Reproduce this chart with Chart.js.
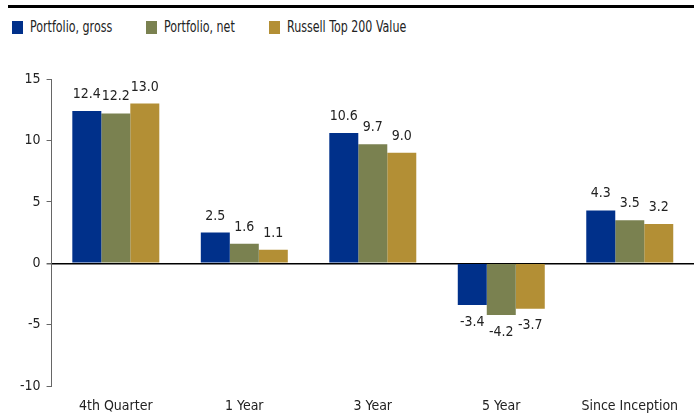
<!DOCTYPE html>
<html>
<head>
<meta charset="utf-8">
<script src="https://cdn.jsdelivr.net/npm/chart.js@4.4.1/dist/chart.umd.min.js"></script>
<style>
  html, body { margin: 0; padding: 0; background: #fff; }
  body { width: 694px; height: 415px; position: relative; overflow: hidden; font-family: "DejaVu Sans Condensed", "DejaVu Sans", sans-serif; }
  #topRule { position: absolute; left: 8px; right: 0; top: 5px; height: 3px; background: #000; }
  #legend { position: absolute; left: 0; top: 21px; width: 694px; height: 16px; font-size: 16px; color: #222; }
  .item { position: absolute; top: 0; height: 13px; }
  .box { position: absolute; left: 0; top: 0; width: 11px; height: 13px; }
  .txt { position: absolute; left: 18px; top: -4px; white-space: nowrap; transform: scaleX(0.77); transform-origin: left center; }
  #wrap { position: absolute; left: 0; top: 0; width: 694px; height: 415px; }
</style>
</head>
<body>
<div id="topRule"></div>
<div id="legend"></div>
<div id="wrap"><canvas id="chartReturns"></canvas></div>
<script>
const periods = ["4th Quarter", "1 Year", "3 Year", "5 Year", "Since Inception"];
const seriesNames = ["Portfolio, gross", "Portfolio, net", "Russell Top 200 Value"];
const gross = [12.4, 2.5, 10.6, -3.4, 4.3];
const net = [12.2, 1.6, 9.7, -4.2, 3.5];
const benchmark = [13.0, 1.1, 9.0, -3.7, 3.2];
const colors = ["#00308a", "#7a8150", "#b38f35"];
const legendX = [12, 146, 269];
const FONT = "'DejaVu Sans Condensed', 'DejaVu Sans', sans-serif";

// value labels above / below each bar
const valueLabels = {
    id: "valueLabels",
    afterDatasetsDraw(chart) {
        const ctx = chart.ctx;
        ctx.save();
        ctx.font = "14px " + FONT;
        ctx.fillStyle = "#222";
        ctx.textAlign = "center";
        chart.data.datasets.forEach((ds, i) => {
            chart.getDatasetMeta(i).data.forEach((bar, j) => {
                const v = ds.data[j];
                if (v >= 0) {
                    ctx.textBaseline = "alphabetic";
                    ctx.fillText(v.toFixed(1), bar.x, bar.y - 13);
                } else {
                    ctx.textBaseline = "top";
                    ctx.fillText(v.toFixed(1), bar.x, bar.y + 10);
                }
            });
        });
        ctx.restore();
    }
};

const datasets = [gross, net, benchmark].map((d, i) => ({
    label: seriesNames[i],
    data: d,
    backgroundColor: colors[i],
    categoryPercentage: 0.677,
    barPercentage: 1.0
}));

// html legend
const legendEl = document.getElementById("legend");
datasets.forEach((ds, i) => {
    const item = document.createElement("div");
    item.className = "item";
    item.style.left = legendX[i] + "px";
    const box = document.createElement("span");
    box.className = "box";
    box.style.background = ds.backgroundColor;
    const txt = document.createElement("span");
    txt.className = "txt";
    txt.textContent = ds.label;
    item.appendChild(box);
    item.appendChild(txt);
    legendEl.appendChild(item);
});

new Chart(document.getElementById("chartReturns"), {
    type: "bar",
    data: { labels: periods, datasets: datasets },
    options: {
        responsive: true,
        maintainAspectRatio: false,
        animation: false,
        layout: { padding: { top: 79, right: -6, left: 14, bottom: -12 } },
        plugins: { legend: { display: false }, tooltip: { enabled: false } },
        scales: {
            x: {
                grid: { display: false, drawTicks: false },
                border: { display: false },
                ticks: { color: "#222", font: { size: 14, family: FONT }, padding: 12 }
            },
            y: {
                min: -10,
                max: 15,
                ticks: { stepSize: 5, color: "#222", font: { size: 14, family: FONT }, padding: 6 },
                border: { display: true, color: "#666", width: 1 },
                grid: {
                    color: c => (c.tick && c.tick.value === 0 ? "#000" : "transparent"),
                    lineWidth: c => (c.tick && c.tick.value === 0 ? 1.5 : 1),
                    tickColor: "#666",
                    tickLength: 5
                }
            }
        }
    },
    plugins: [valueLabels]
});
</script>
</body>
</html>
